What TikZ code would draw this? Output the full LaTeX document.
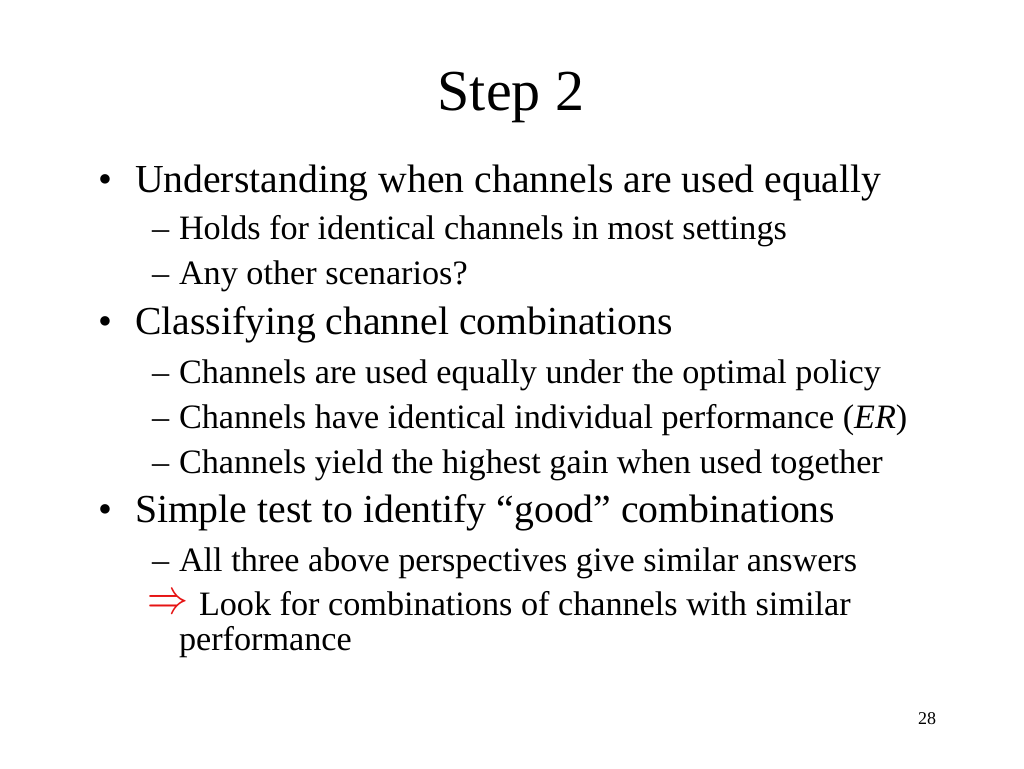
\documentclass[tikz,border=0pt]{standalone}
\usepackage{fontspec}
\setmainfont{Liberation Serif}
\usepackage{xcolor}
\usepackage{graphicx}
\definecolor{arrowred}{RGB}{230,20,20}
\begin{document}
\begin{tikzpicture}[x=1pt,y=1pt,
  txt/.style={inner sep=0pt, outer sep=0pt, anchor=base west},
  title/.style={inner sep=0pt, anchor=base, font=\fontsize{58}{58}\selectfont},
  lone/.style={txt, font=\fontsize{39.7}{40}\selectfont},
  ltwo/.style={txt, font=\fontsize{34.2}{34}\selectfont},
  pnum/.style={inner sep=0pt, anchor=base, font=\fontsize{18}{18}\selectfont}]
\useasboundingbox (0,0) rectangle (1024,-768);
\fill[white] (0,0) rectangle (1024,-768);
\node[title] (t) at (511,-110) {Step 2};
% bullet 1
\node[lone] (b1) at (98,-192) {•};
\node[lone] (l1) at (135,-192) {Understanding when channels are used equally};
\node[ltwo] (d11) at (152,-239) {–};
\node[ltwo] (s11) at (179,-239) {Holds for identical channels in most settings};
\node[ltwo] (d12) at (152,-284) {–};
\node[ltwo] (s12) at (179,-284) {Any other scenarios?};
% bullet 2
\node[lone] (b2) at (98,-334) {•};
\node[lone] (l2) at (135,-334) {Classifying channel combinations};
\node[ltwo] (d21) at (152,-383) {–};
\node[ltwo] (s21) at (179,-383) {Channels are used equally under the optimal policy};
\node[ltwo] (d22) at (152,-428) {–};
\node[ltwo] (s22) at (179,-428) {Channels have identical individual performance (\textit{ER})};
\node[ltwo] (d23) at (152,-473) {–};
\node[ltwo] (s23) at (179,-473) {Channels yield the highest gain when used together};
% bullet 3
\node[lone] (b3) at (98,-522) {•};
\node[lone] (l3) at (135,-522) {Simple test to identify “good” combinations};
\node[ltwo] (d31) at (152,-571) {–};
\node[ltwo] (s31) at (179,-571) {All three above perspectives give similar answers};
\node[txt, text=arrowred] (ar) at (147,-613) {\resizebox{41pt}{18pt}{$\Rightarrow$}};
\node[ltwo] (s32) at (199,-615) {Look for combinations of channels with similar};
\node[ltwo] (s33) at (179,-650) {performance};
\node[pnum] (pn) at (927,-724) {28};
\end{tikzpicture}
\end{document}
